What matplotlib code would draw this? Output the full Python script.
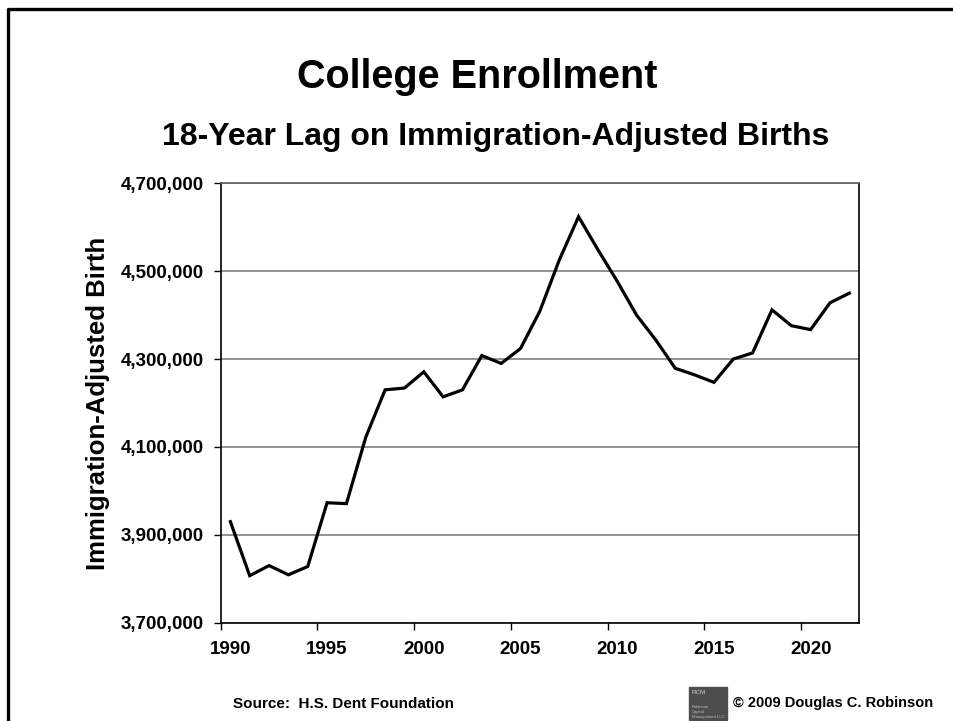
import numpy as np
import matplotlib.pyplot as plt
from matplotlib.lines import Line2D
from matplotlib.patches import Rectangle
from matplotlib.ticker import FuncFormatter

plt.rcParams['font.family'] = ['Liberation Sans', 'DejaVu Sans']
plt.rcParams['font.weight'] = 'bold'

years = list(range(1990, 2023))
births = [3930000, 3807000, 3830000, 3809000, 3828000, 3973000, 3971000, 4122000,
          4230000, 4234000, 4271000, 4214000, 4230000, 4308000, 4290000, 4324000,
          4409000, 4525000, 4624000, 4549000, 4477000, 4400000, 4343000, 4279000,
          4264000, 4247000, 4300000, 4314000, 4412000, 4376000, 4367000, 4428000,
          4450000]
y_ticks = [3700000, 3900000, 4100000, 4300000, 4500000, 4700000]

W, H = 954, 721
fig = plt.figure(figsize=(W / 100, H / 100), dpi=100)
ax = fig.add_axes([220.7 / W, 1 - 622.7 / H, (859 - 220.7) / W, (622.7 - 183.3) / H])

x = np.arange(len(years))
ax.plot(x, births, color='black', lw=2.3, solid_joinstyle='miter', zorder=3)

ax.set_xlim(-0.5, len(years) - 0.5)
ax.set_ylim(y_ticks[0], y_ticks[-1])

# category axis: ticks between categories, labels on the category
ax.set_xticks(np.arange(-0.5, len(years), 5))
ax.set_xticklabels([])
lab_idx = np.arange(0, len(years), 5)
ax.set_xticks(lab_idx, minor=True)
ax.set_xticklabels([str(years[i]) for i in lab_idx], minor=True)
ax.tick_params(axis='x', which='minor', length=0, pad=13, labelsize=13.5)
ax.tick_params(axis='x', which='major', direction='out', length=5, width=1)

ax.set_yticks(y_ticks)
ax.yaxis.set_major_formatter(FuncFormatter(lambda v, p: f'{int(v):,}'))
ax.tick_params(axis='y', direction='out', length=5, width=1, pad=7, labelsize=13.5)
ax.grid(axis='y', color='#808080', lw=1.2)
ax.set_axisbelow(True)

for s in ax.spines.values():
    s.set_color('black')
    s.set_linewidth(1.2)
ax.spines['top'].set_color('#606060')

ax.set_ylabel('Immigration-Adjusted Birth', fontsize=18.5, fontweight='bold', labelpad=8)

fig.text(0.5, 1 - 77 / H, 'College Enrollment', ha='center', va='center',
         fontsize=28.5, fontweight='bold')
fig.text(496 / W, 1 - 137 / H, '18-Year Lag on Immigration-Adjusted Births', ha='center',
         va='center', fontsize=23, fontweight='bold')

fig.text(233 / W, 1 - 704 / H, 'Source:  H.S. Dent Foundation', ha='left', va='center',
         fontsize=11, fontweight='bold')
fig.text(733 / W, 1 - 703 / H, '\u00a9 2009 Douglas C. Robinson', ha='left', va='center',
         fontsize=10.5, fontweight='bold')

# small logo box
fig.patches.append(Rectangle((689 / W, 1 - 720 / H), 38 / W, 33 / H,
                             transform=fig.transFigure, color='#4d4d4d'))
fig.text(692 / W, 1 - 693 / H, 'RCM', fontsize=4.5, color='#cfcfcf', va='center', fontweight='normal')
fig.text(692 / W, 1 - 712 / H, 'Robinson\nCapital\nManagement LLC', fontsize=3, color='#bdbdbd',
         va='center', fontweight='normal', linespacing=1.2)

# slide frame (left and top edges visible)
fig.lines.append(Line2D([8.5 / W, 8.5 / W, 1], [0, 1 - 8.5 / H, 1 - 8.5 / H],
                        transform=fig.transFigure, color='black', lw=2.4))

fig.savefig('out.png', dpi=100)
